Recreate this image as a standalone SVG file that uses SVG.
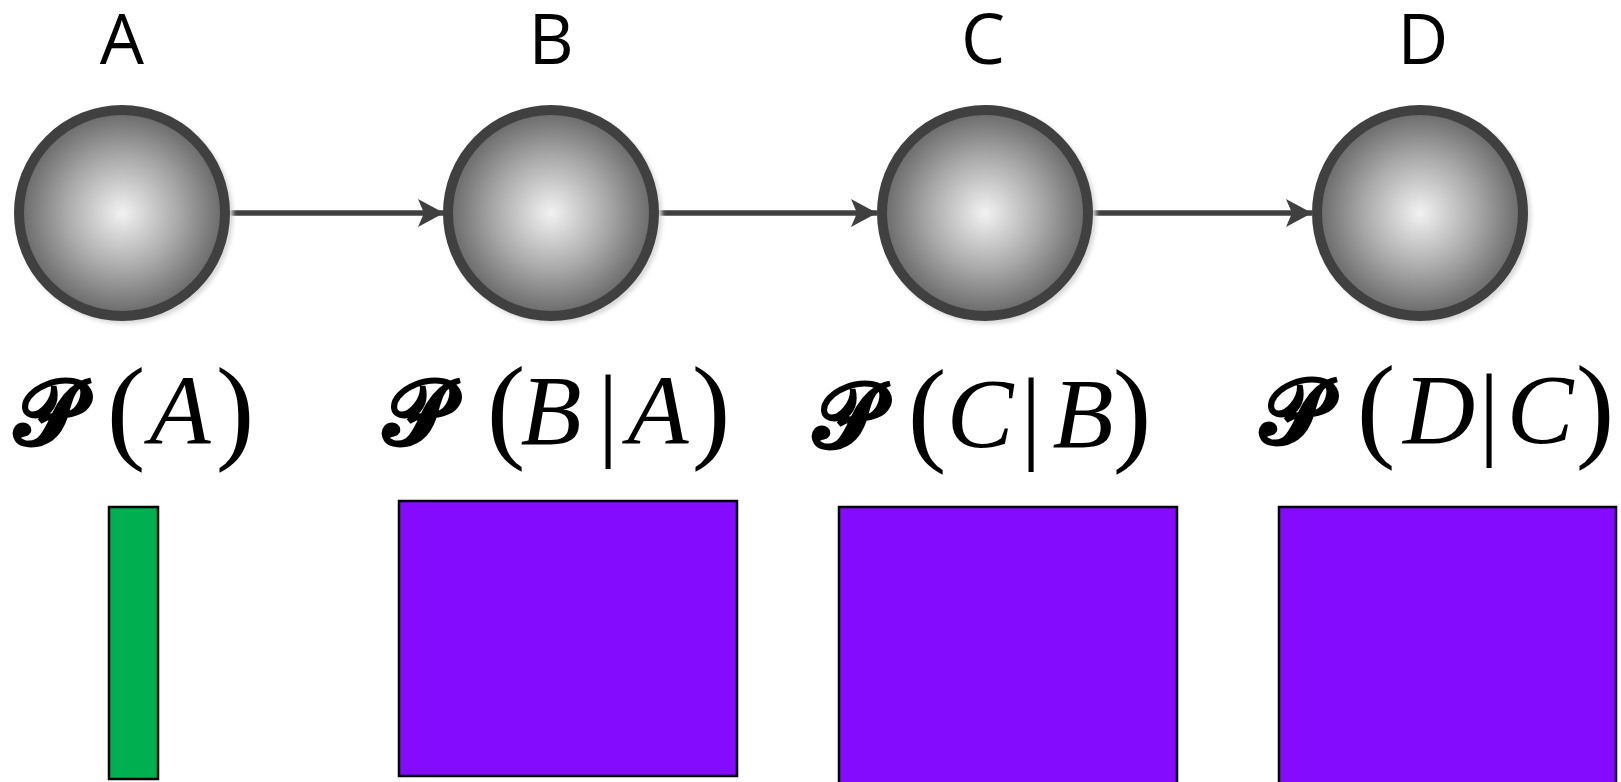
<svg xmlns="http://www.w3.org/2000/svg" width="1621" height="782" viewBox="0 0 1621 782">
  <defs>
    <radialGradient id="sphere" cx="50%" cy="50%" r="50%">
      <stop offset="0" stop-color="#f2f2f2"/>
      <stop offset="0.55" stop-color="#a9a9a9"/>
      <stop offset="1" stop-color="#676767"/>
    </radialGradient>
    <filter id="shadow" x="-20%" y="-20%" width="140%" height="140%">
      <feGaussianBlur stdDeviation="2"/>
    </filter>
    <marker id="arrow" markerUnits="userSpaceOnUse" markerWidth="28" markerHeight="30" refX="26" refY="15" orient="auto">
      <path d="M0,1 L26,15 L0,29 L6,15 Z" fill="#404040"/>
    </marker>
  </defs>
  <style>
    .node-shadow { fill: #d8d8d8; filter: url(#shadow); }
    .node-circle { fill: url(#sphere); stroke: #404040; stroke-width: 10; }
    .node-label { font-family: "Open Sans", "Liberation Sans", sans-serif; font-size: 70px; fill: #000; text-anchor: middle; }
    .edge { stroke: #404040; stroke-width: 5.5; fill: none; marker-end: url(#arrow); }
    .math { font-family: "Liberation Serif", "DejaVu Serif", serif; fill: #000; text-anchor: middle; }
    .cal { font-family: "DejaVu Serif", "DejaVu Sans", serif; font-size: 92px; font-weight: bold; }
    .var { font-style: italic; font-size: 100px; }
    .par { font-size: 116px; }
    .bar { font-size: 103px; }
    .vec { fill: #00b050; stroke: #000; stroke-width: 2.5; }
    .mat { fill: #850bff; stroke: #000; stroke-width: 2.5; }
  </style>
  <rect width="1621" height="782" fill="#fff"/>

  <g id="connectors">
    <line class="edge" x1="230" y1="213" x2="444" y2="213"/>
    <line class="edge" x1="659" y1="213" x2="877" y2="213"/>
    <line class="edge" x1="1093" y1="213" x2="1312" y2="213"/>
  </g>

  <g id="node-A">
    <circle class="node-shadow" cx="125" cy="216" r="108"/>
    <circle class="node-circle" cx="122" cy="213" r="103"/>
    <text class="node-label" x="122" y="64">A</text>
  </g>
  <g id="node-B">
    <circle class="node-shadow" cx="554" cy="216" r="108"/>
    <circle class="node-circle" cx="551" cy="213" r="103"/>
    <text class="node-label" x="551" y="64">B</text>
  </g>
  <g id="node-C">
    <circle class="node-shadow" cx="988" cy="216" r="108"/>
    <circle class="node-circle" cx="985" cy="213" r="103"/>
    <text class="node-label" x="983" y="64">C</text>
  </g>
  <g id="node-D">
    <circle class="node-shadow" cx="1423" cy="216" r="108"/>
    <circle class="node-circle" cx="1420" cy="213" r="103"/>
    <text class="node-label" x="1423" y="64">D</text>
  </g>

  <g id="formula-A">
    <text class="math"><tspan class="cal" x="47" y="444">𝓟</tspan><tspan class="par" x="126" y="448">(</tspan><tspan class="var" x="180" y="444">A</tspan><tspan class="par" x="235" y="448">)</tspan></text>
  </g>
  <g id="formula-B">
    <text class="math"><tspan class="cal" x="416" y="444">𝓟</tspan><tspan class="par" x="506" y="447">(</tspan><tspan class="var" x="551" y="444">B</tspan><tspan class="bar" x="608" y="447">|</tspan><tspan class="var" x="658" y="444">A</tspan><tspan class="par" x="711" y="447">)</tspan></text>
  </g>
  <g id="formula-C">
    <text class="math"><tspan class="cal" x="846" y="447">𝓟</tspan><tspan class="par" x="927" y="450">(</tspan><tspan class="var" x="980" y="447">C</tspan><tspan class="bar" x="1031" y="450">|</tspan><tspan class="var" x="1083" y="447">B</tspan><tspan class="par" x="1132" y="450">)</tspan></text>
  </g>
  <g id="formula-D">
    <text class="math"><tspan class="cal" x="1293" y="443">𝓟</tspan><tspan class="par" x="1376" y="446">(</tspan><tspan class="var" x="1439" y="443">D</tspan><tspan class="bar" x="1489" y="446">|</tspan><tspan class="var" x="1540" y="443">C</tspan><tspan class="par" x="1595" y="446">)</tspan></text>
  </g>

  <g id="matrix-A">
    <rect class="vec" x="109" y="507" width="49" height="272"/>
  </g>
  <g id="matrix-B">
    <rect class="mat" x="399" y="501" width="338" height="275"/>
  </g>
  <g id="matrix-C">
    <rect class="mat" x="839" y="507" width="338" height="285"/>
  </g>
  <g id="matrix-D">
    <rect class="mat" x="1279" y="507" width="337" height="285"/>
  </g>
</svg>
